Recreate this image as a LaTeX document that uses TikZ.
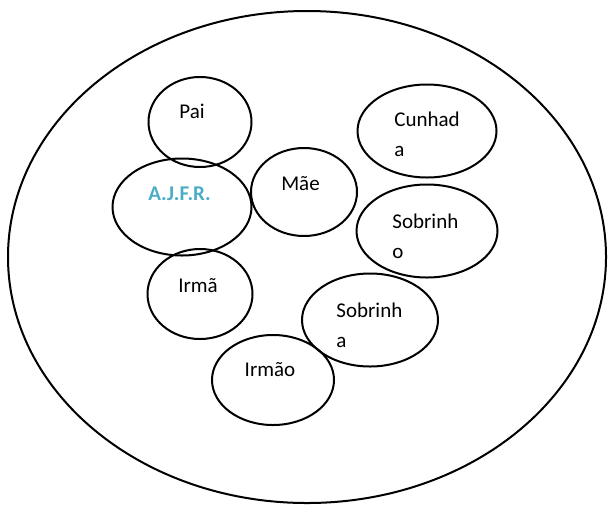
\documentclass[tikz,border=0pt]{standalone}
\usepackage{fontspec}
\setmainfont{Carlito}
\usetikzlibrary{shapes.geometric}
\definecolor{azul}{HTML}{4BACC6}

\begin{document}
\begin{tikzpicture}[x=0.5pt,y=-0.5pt,
        pessoa/.style={ellipse,draw,line width=1pt,inner sep=0pt},
        nome/.style={inner sep=0pt,font=\fontsize{10.5}{15}\selectfont},
        nome2/.style={nome,align=left,anchor=base west}]
        \useasboundingbox (0,0) rectangle (608,504);
        % Circulo grande
        \node[pessoa,minimum width=299pt,minimum height=246pt] (familia) at (307,257) {};
        % Pessoas
        \node[pessoa,minimum width=51.5pt,minimum height=45pt] (pai) at (200,122) {};
        \node[pessoa,minimum width=69.5pt,minimum height=48.5pt] (ajfr) at (182,207) {};
        \node[pessoa,minimum width=53pt,minimum height=44pt] (mae) at (304,192) {};
        \node[pessoa,minimum width=69.5pt,minimum height=46.5pt] (cunhada) at (427,131) {};
        \node[pessoa,minimum width=70.5pt,minimum height=46.5pt] (sobrinho) at (427,231) {};
        \node[pessoa,minimum width=52.5pt,minimum height=45pt] (irma) at (200,294) {};
        \node[pessoa,minimum width=68pt,minimum height=46.5pt] (sobrinha) at (370,320) {};
        \node[pessoa,minimum width=61pt,minimum height=45pt] (irmao) at (273,380) {};
        % Nomes
        \node[nome,anchor=base] (tpai) at (192,118) {Pai};
        \node[nome,anchor=base,text=azul,font=\fontsize{10.5}{15}\selectfont\bfseries] (tajfr) at (179.5,200) {A.J.F.R.};
        \node[nome,anchor=base] (tmae) at (300.5,190) {Mãe};
        \node[nome,anchor=base] (tirma) at (198,292.5) {Irmã};
        \node[nome,anchor=base] (tirmao) at (270,376.5) {Irmão};
        \node[nome2] (tcunhada) at (394,156.5) {Cunhad\\a};
        \node[nome2] (tsobrinho) at (392,258) {Sobrinh\\o};
        \node[nome2] (tsobrinha) at (336,347) {Sobrinh\\a};
    \end{tikzpicture}
\end{document}
